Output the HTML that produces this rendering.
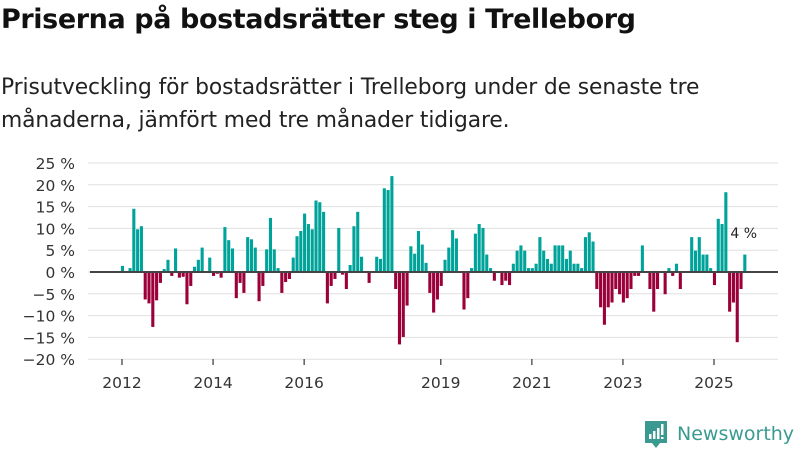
<!DOCTYPE html>
<html><head><meta charset="utf-8">
<style>
body{margin:0;width:800px;height:450px;background:#fff;overflow:hidden;font-family:"DejaVu Sans","Liberation Sans",sans-serif;}
h1{position:absolute;left:1px;top:4px;margin:0;font-size:27px;font-weight:bold;color:#111;letter-spacing:-0.4px;white-space:nowrap;}
p.sub{position:absolute;left:1px;top:71px;margin:0;font-size:21.8px;line-height:33px;color:#222;width:730px;letter-spacing:-0.1px;}
svg{position:absolute;left:0;top:0;}
</style></head><body>
<h1>Priserna på bostadsrätter steg i Trelleborg</h1>
<p class="sub">Prisutveckling för bostadsrätter i Trelleborg under de senaste tre månaderna, jämfört med tre månader tidigare.</p>
<svg id="chart" width="800" height="450"></svg>
<script>
const values = [1.4,0,0.9,14.5,9.8,10.5,-6.3,-7.2,-12.6,-6.5,-2.5,0.7,2.8,-0.9,5.4,-1.3,-1.1,-7.4,-3.2,1.2,2.8,5.6,0,3.3,-0.9,-0.4,-1.3,10.3,7.3,5.4,-6.0,-2.5,-4.8,8.0,7.5,5.6,-6.7,-3.2,5.2,12.4,5.2,0.9,
-4.8,-2.3,-1.6,3.3,8.2,9.4,13.4,11.0,9.8,16.4,16.0,13.8,-7.2,-3.2,-1.6,10.1,-0.6,-3.9,1.6,10.5,13.8,3.5,0,-2.5,0,3.5,3.0,19.2,18.8,22.0,-3.9,-16.6,-14.9,-7.7,5.9,4.2,9.4,6.3,2.1,
-4.8,-9.3,-6.3,-3.2,2.8,5.6,9.6,7.7,0,-8.6,-6.0,0.9,8.8,11.0,10.1,4.0,0.9,-2.0,0,-3.0,-2.0,-3.0,1.9,4.9,6.1,4.9,0.9,0.9,1.9,8.0,4.9,3.0,1.9,6.1,6.1,6.1,3.0,4.9,1.9,1.9,0.9,8.0,9.1,7.0,
-3.9,-8.1,-12.1,-8.1,-7.0,-3.9,-5.1,-7.0,-6.0,-3.9,-0.9,-0.9,6.1,0,-3.9,-9.1,-3.9,0,-5.1,0.9,-0.9,1.9,-3.9,0,0,8.0,4.9,8.0,4.0,4.0,0.9,-3.0,12.2,11.0,18.3,-9.1,-7.0,-16.1,-3.9,4.0];
const yTicks = [25,20,15,10,5,0,-5,-10,-15,-20];
const yTickLabels = ["25 %","20 %","15 %","10 %","5 %","0 %","−5 %","−10 %","−15 %","−20 %"];
const xTickYears = [2012,2014,2016,2019,2021,2023,2025];
const lastLabel = "4 %";

const NS='http://www.w3.org/2000/svg';
const svg=document.getElementById('chart');
function y(v){return 272 - v*4.36;}
function x(m){return 122 + m*3.795;}
function mk(t,a){const e=document.createElementNS(NS,t);for(const k in a)e.setAttribute(k,a[k]);svg.appendChild(e);return e;}

yTicks.forEach((v,i)=>{
  const g=mk('line',{x1:88,x2:778,y1:y(v),y2:y(v),stroke:'#e0e0e0','stroke-width':1});
  
  
  const t=mk('text',{x:75,y:y(v)+6,'text-anchor':'end','font-size':15.5,fill:'#333'});
  t.textContent=yTickLabels[i];
  
  
});
values.forEach((v,i)=>{
  if(v===0)return;
  const cx=x(i)+0.5;
  const r=mk('rect',{x:cx-1.6,width:3.1,y:v>0?y(v):y(0),height:Math.abs(y(v)-y(0)),fill:v>0?'#00a39a':'#9b0039'});
  
  
});
const z=mk('line',{x1:90,x2:778,y1:y(0),y2:y(0),stroke:'#444','stroke-width':2});


xTickYears.forEach(yr=>{
  const xx=x((yr-2012)*12);
  const tk=mk('line',{x1:xx,x2:xx,y1:359,y2:365,stroke:'#444','stroke-width':1.3});
  
  
  const t=mk('text',{x:xx,y:388,'text-anchor':'middle','font-size':15.5,fill:'#333'});
  t.textContent=yr;
  
  
});
const li=values.length-1;
const lt=mk('text',{x:x(li)-14,y:238,'font-size':14,fill:'#222'});
lt.textContent=lastLabel;


</script>
<svg width="800" height="450" style="position:absolute;left:0;top:0">
<path d="M645 421 h22 v22 h-7 l-4 5 l-4 -5 h-7z" fill="#3a9a92"/>
<rect x="649" y="434" width="2.5" height="5" fill="#fff"/><rect x="653" y="431" width="2.5" height="8" fill="#fff"/><rect x="657" y="428" width="2.5" height="11" fill="#fff"/><rect x="661" y="424" width="2.5" height="11" fill="#fff"/><rect x="661" y="437" width="2.5" height="2" fill="#fff"/>
<text x="677" y="440" font-size="19" fill="#3a9a92" font-family="DejaVu Sans, sans-serif">Newsworthy</text>
</svg>
</body></html>
